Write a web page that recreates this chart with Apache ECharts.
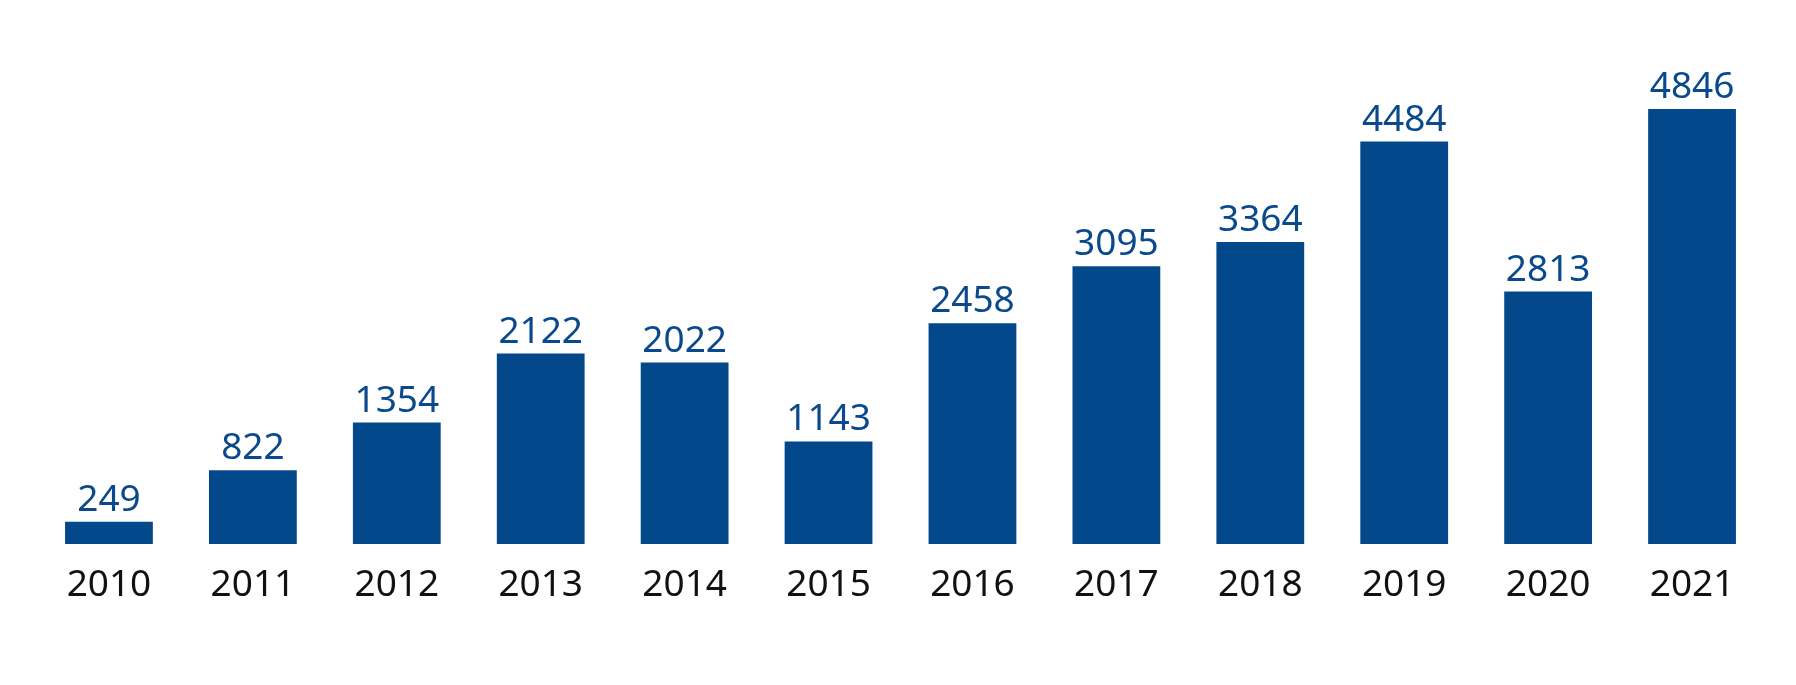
<!DOCTYPE html>
<html>
<head>
<meta charset="utf-8">
<script src="https://cdn.jsdelivr.net/npm/echarts@6/dist/echarts.min.js"></script>
<style>
html,body{margin:0;padding:0;background:#fff;}
#chart{width:1796px;height:685px;}
</style>
</head>
<body>
<div id="chart"></div>
<script>
var years = ['2010','2011','2012','2013','2014','2015','2016','2017','2018','2019','2020','2021'];
var counts = [249, 822, 1354, 2122, 2022, 1143, 2458, 3095, 3364, 4484, 2813, 4846];
var yMax = 4846;

var chart = echarts.init(document.getElementById('chart'));
chart.setOption({
  animation: false,
  backgroundColor: '#ffffff',
  grid: { left: 37, right: 32, top: 109, bottom: 141, containLabel: false },
  xAxis: {
    type: 'category',
    data: years,
    axisLine: { show: false },
    axisTick: { show: false },
    axisLabel: {
      margin: 23,
      color: '#111111',
      fontFamily: 'Noto Sans',
      fontSize: 37
    }
  },
  yAxis: {
    type: 'value',
    min: 0,
    max: yMax,
    show: false,
    splitLine: { show: false }
  },
  series: [{
    type: 'bar',
    data: counts,
    barCategoryGap: '39%',
    itemStyle: { color: '#02488B' },
    label: {
      show: true,
      position: 'top',
      distance: 3,
      color: '#0A4A8C',
      fontFamily: 'Noto Sans',
      fontSize: 37
    }
  }]
});
</script>
</body>
</html>
